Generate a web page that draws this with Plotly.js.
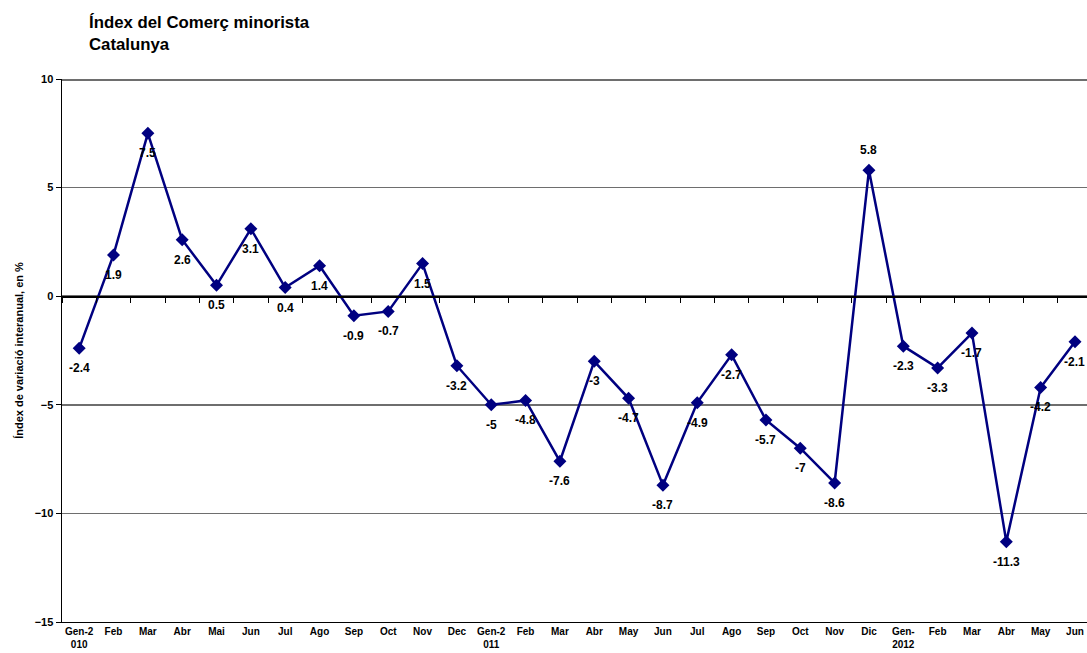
<!DOCTYPE html>
<html>
<head>
<meta charset="utf-8">
<script src="https://cdn.plot.ly/plotly-3.0.1.min.js"></script>
<style>html,body{margin:0;padding:0;background:#fff;}#chart{width:1087px;height:653px;}</style>
</head>
<body>
<div id="chart"></div>
<script>
const months = ["Gen-2<br>010","Feb","Mar","Abr","Mai","Jun","Jul","Ago","Sep","Oct","Nov","Dec",
  "Gen-2<br>011","Feb","Mar","Abr","May","Jun","Jul","Ago","Sep","Oct","Nov","Dic",
  "Gen-<br>2012","Feb","Mar","Abr","May","Jun"];
const values = [-2.4,1.9,7.5,2.6,0.5,3.1,0.4,1.4,-0.9,-0.7,1.5,-3.2,
  -5,-4.8,-7.6,-3,-4.7,-8.7,-4.9,-2.7,-5.7,-7,-8.6,5.8,
  -2.3,-3.3,-1.7,-11.3,-4.2,-2.1];
const labelsAbove = [23];

const idx = months.map((_, i) => i);
const font = {family: "Liberation Sans, Arial, sans-serif", color: "#000"};

const annotations = values.map((v, i) => ({
  x: i, y: v, xref: "x", yref: "y", text: String(v), showarrow: false,
  yshift: labelsAbove.includes(i) ? 20 : -20,
  font: Object.assign({size: 12, weight: "bold"}, font)
}));
annotations.push({
  xref: "paper", yref: "paper", x: 0.024, y: 1.043, xanchor: "left", yanchor: "bottom",
  align: "left", showarrow: false,
  text: "Índex del Comerç minorista<br>Catalunya",
  font: Object.assign({size: 16.8, weight: "bold"}, font)
});

const trace = {
  x: idx, y: values, type: "scatter", mode: "lines+markers",
  line: {color: "#000080", width: 2.5},
  marker: {symbol: "diamond", size: 10, color: "#000080"},
  hoverinfo: "skip", cliponaxis: false
};
const zeroTrace = {x: [0], y: [0], xaxis: "x2", yaxis: "y", mode: "markers",
  marker: {opacity: 0}, hoverinfo: "skip", showlegend: false};
const topTrace = {x: [0], y: [0], xaxis: "x3", yaxis: "y", mode: "markers",
  marker: {opacity: 0}, hoverinfo: "skip", showlegend: false};

const bounds = idx.map(i => i - 0.5).concat([idx.length - 0.5]);

const layout = {
  width: 1087, height: 653,
  margin: {l: 62, r: 0, t: 79, b: 31},
  paper_bgcolor: "#fff", plot_bgcolor: "#fff",
  showlegend: false,
  xaxis: {
    range: [-0.5, 29.35], tickmode: "array", tickvals: idx, ticktext: months,
    showgrid: false, zeroline: false, showline: true, linecolor: "#000", linewidth: 1,
    ticks: "", tickfont: Object.assign({size: 10, weight: "bold"}, font)
  },
  xaxis2: {
    overlaying: "x", anchor: "free", position: 0.6, side: "bottom",
    range: [-0.5, 29.35], tickmode: "array", tickvals: bounds, showticklabels: false,
    ticks: "outside", ticklen: 5, tickcolor: "#000", showline: true, linecolor: "#000",
    linewidth: 1.5, showgrid: false, zeroline: false
  },
  xaxis3: {
    overlaying: "x", anchor: "free", position: 1, side: "top",
    range: [-0.5, 29.35], showticklabels: false, ticks: "",
    showline: true, linecolor: "#6e6e6e", linewidth: 1.5, showgrid: false, zeroline: false
  },
  yaxis: {
    range: [-15, 10], tickmode: "array", tickvals: [-15,-10,-5,0,5,10],
    showgrid: true, gridcolor: "#6e6e6e", gridwidth: 1.5, zeroline: false,
    showline: true, linecolor: "#000", linewidth: 1.5,
    ticks: "outside", ticklen: 5, tickcolor: "#000",
    tickfont: Object.assign({size: 11, weight: "bold"}, font),
    title: {text: "Índex de variació interanual, en %", standoff: 9,
      font: Object.assign({size: 11, weight: "bold"}, font)}
  },
  annotations: annotations
};

Plotly.newPlot("chart", [topTrace, zeroTrace, trace], layout, {staticPlot: true, displayModeBar: false});
</script>
</body>
</html>
